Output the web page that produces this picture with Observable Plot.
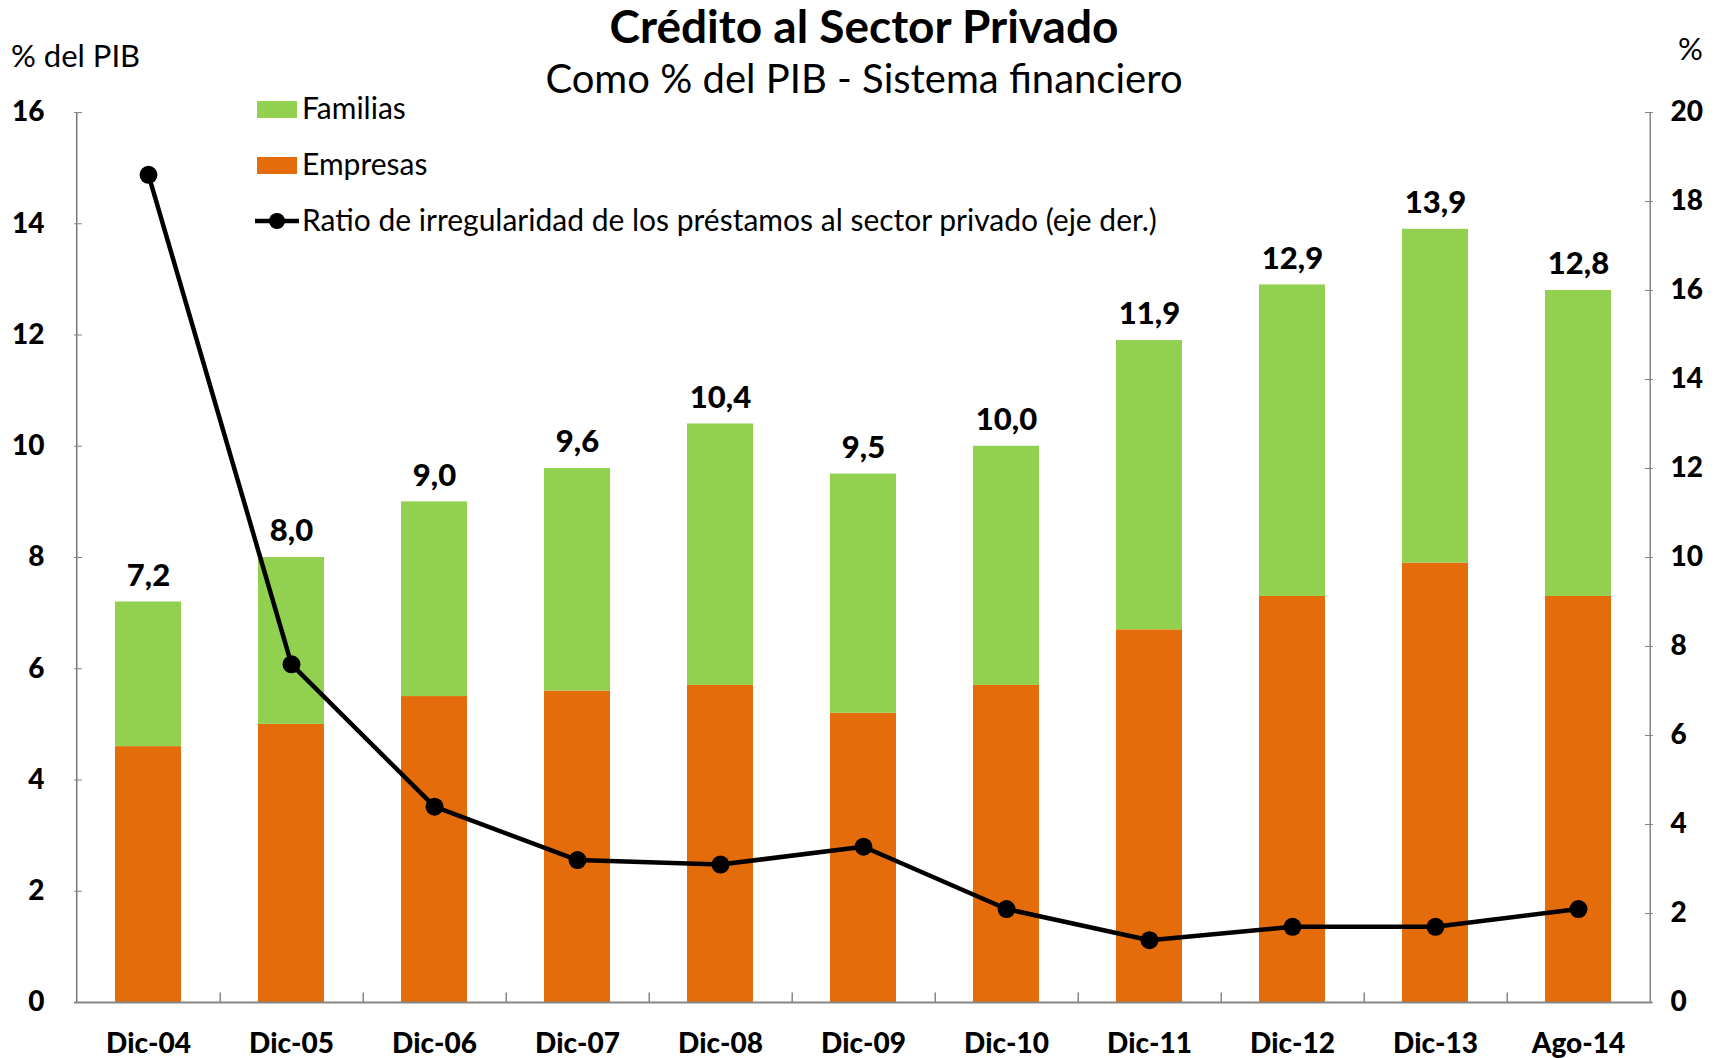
<!DOCTYPE html>
<html>
<head>
<meta charset="utf-8">
<script src="https://cdn.jsdelivr.net/npm/d3@7"></script>
<script src="https://cdn.jsdelivr.net/npm/@observablehq/plot@0.6"></script>
<style>
  html, body { margin: 0; padding: 0; background: #fff; }
  #chart { width: 1725px; height: 1058px; }
  svg { font-family: Lato, "Open Sans", sans-serif; }
</style>
</head>
<body>
<div id="chart"></div>
<script>
const categories = ["Dic-04","Dic-05","Dic-06","Dic-07","Dic-08","Dic-09","Dic-10","Dic-11","Dic-12","Dic-13","Ago-14"];
const totals     = [7.2, 8.0, 9.0, 9.6, 10.4, 9.5, 10.0, 11.9, 12.9, 13.9, 12.8];
const empresas   = [4.6, 5.0, 5.5, 5.6, 5.7, 5.2, 5.7, 6.7, 7.3, 7.9, 7.3];
const ratio      = [18.6, 7.6, 4.4, 3.2, 3.1, 3.5, 2.1, 1.4, 1.7, 1.7, 2.1];
const leftTicks  = [0, 2, 4, 6, 8, 10, 12, 14, 16];
const rightTicks = [0, 2, 4, 6, 8, 10, 12, 14, 16, 18, 20];

const W = 1725, H = 1058;
const mL = 74, mR = 73, mT = 112, mB = 56;
const step = (W - mL - mR) / categories.length;
const LEFT_MAX = 16, RIGHT_MAX = 20;
const toLeft = v => v * LEFT_MAX / RIGHT_MAX;
const fmt = v => d3.format(".1f")(v).replace(".", ",");

const stacked = [];
categories.forEach((c, i) => {
  stacked.push({cat: c, serie: "Empresas", value: empresas[i]});
  stacked.push({cat: c, serie: "Familias", value: +(totals[i] - empresas[i]).toFixed(2)});
});
const totalData = categories.map((c, i) => ({cat: c, total: totals[i]}));
const ratioData = categories.map((c, i) => ({cat: c, ratio: ratio[i]}));

const GREEN = "#92D050", ORANGE = "#E46C0A", AXIS = "#868686";

const plot = Plot.plot({
  width: W, height: H,
  marginLeft: mL, marginRight: mR, marginTop: mT, marginBottom: mB,
  style: {fontFamily: "Lato, 'Open Sans', sans-serif", background: "#fff", overflow: "visible"},
  x: {type: "band", domain: categories, paddingInner: 0.54, paddingOuter: 0.27, axis: null},
  y: {domain: [0, LEFT_MAX], axis: null},
  color: {domain: ["Empresas", "Familias"], range: [ORANGE, GREEN]},
  marks: [
    Plot.barY(stacked, {x: "cat", y: "value", fill: "serie", order: ["Empresas", "Familias"]}),
    // axis lines
    Plot.ruleX([categories[0]], {dx: -step / 2, stroke: "#555", strokeWidth: 1.2}),
    Plot.ruleX([categories[categories.length - 1]], {dx: step / 2, stroke: AXIS, strokeWidth: 1.5}),
    Plot.ruleY([0], {stroke: AXIS, strokeWidth: 2}),
    // category boundary ticks
    Plot.ruleX(categories.slice(0, -1), {dx: step / 2, y1: 0, y2: 0.17, stroke: AXIS, strokeWidth: 1.5}),
    Plot.axisY({anchor: "left", ticks: leftTicks, tickSize: -8, tickPadding: 38, stroke: AXIS,
      fontSize: 28, fontWeight: 900, fill: "#000", label: null, tickFormat: d => d3.format("d")(d)}),
    Plot.axisY({anchor: "right", ticks: rightTicks.map(toLeft), tickSize: -8, tickPadding: 26, stroke: AXIS,
      fontSize: 28, fontWeight: 900, fill: "#000", label: null,
      tickFormat: d => d3.format("d")(Math.round(d * RIGHT_MAX / LEFT_MAX))}),
    Plot.axisX({ticks: categories, tickSize: 0, tickPadding: 31, fontSize: 28, fontWeight: 900, fill: "#000", label: null}),
    Plot.text(totalData, {x: "cat", y: "total", text: d => fmt(d.total), dy: -26,
      fontSize: 31, fontWeight: 900, fill: "#000"}),
    Plot.line(ratioData, {x: "cat", y: d => toLeft(d.ratio), stroke: "#000", strokeWidth: 4.5}),
    Plot.dot(ratioData, {x: "cat", y: d => toLeft(d.ratio), r: 9, fill: "#000", stroke: "none"})
  ]
});

document.getElementById("chart").appendChild(plot);

// Titles, unit labels and legend inside the svg
const svg = d3.select(plot);
const font = "Lato, 'Open Sans', sans-serif";
const addText = (x, y, size, weight, anchor, txt) =>
  svg.append("text").attr("x", x).attr("y", y).attr("text-anchor", anchor)
    .attr("font-family", font).attr("font-size", size).attr("font-weight", weight)
    .attr("fill", "#000").text(txt);

addText(864, 43, 46, "bold", "middle", "Crédito al Sector Privado");
addText(864, 93, 40, "normal", "middle", "Como % del PIB - Sistema financiero");
addText(11, 67, 31, "normal", "start", "% del PIB");
addText(1678, 60, 31, "normal", "start", "%");

const legendItems = [
  {label: "Familias", type: "rect", color: GREEN},
  {label: "Empresas", type: "rect", color: ORANGE},
  {label: "Ratio de irregularidad de los préstamos al sector privado (eje der.)", type: "line", color: "#000"}
];
const lg = svg.append("g");
legendItems.forEach((it, i) => {
  const cy = 109 + i * 56;
  if (it.type === "rect") {
    lg.append("rect").attr("x", 257).attr("y", cy - 8).attr("width", 40).attr("height", 17).attr("fill", it.color);
  } else {
    lg.append("line").attr("x1", 255).attr("x2", 299).attr("y1", cy).attr("y2", cy)
      .attr("stroke", "#000").attr("stroke-width", 4.5);
    lg.append("circle").attr("cx", 277).attr("cy", cy).attr("r", 8).attr("fill", "#000");
  }
  lg.append("text").attr("x", 302).attr("y", cy + 10).attr("text-anchor", "start")
    .attr("font-family", font).attr("font-size", 30).attr("fill", "#000").text(it.label);
});
</script>
</body>
</html>
